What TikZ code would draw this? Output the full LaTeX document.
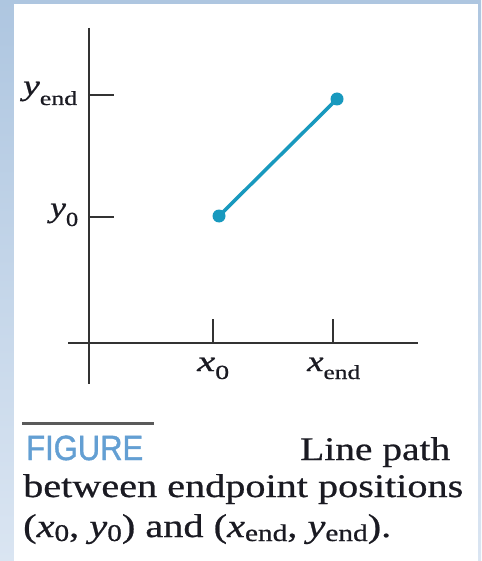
\documentclass[tikz,border=0pt]{standalone}
\usepackage{fontspec}
\usepackage{graphicx}
\setmainfont{Liberation Serif}[FakeBold=0.6]
\newfontfamily\figsans{Liberation Sans}[FakeBold=1.2]
\definecolor{bgtop}{HTML}{AEC6E0}
\definecolor{bgbot}{HTML}{DAE5F2}
\definecolor{linecol}{HTML}{1899BE}
\definecolor{axiscol}{HTML}{333333}
\definecolor{figblue}{HTML}{639FD3}
\definecolor{rulegray}{HTML}{5A5A5A}
\definecolor{txtcol}{HTML}{1A1A22}
\newcommand{\msub}[4]{{\itshape #1}\raisebox{-#3}{\fontsize{#4}{#4}\selectfont #2}}
\tikzset{
  axisline/.style={draw=axiscol, line width=2pt},
  tickline/.style={draw=axiscol, line width=1.8pt},
  segline/.style={draw=linecol, line width=3.5pt},
  dotnode/.style={circle, fill=linecol, inner sep=0pt, minimum size=13pt},
  labtext/.style={inner sep=0pt, text=txtcol, font=\fontsize{29pt}{29pt}\selectfont},
  captext/.style={inner sep=0pt, text=txtcol, font=\fontsize{33pt}{33pt}\selectfont},
}
\begin{document}
\begin{tikzpicture}[x=1pt, y=-1pt]
\useasboundingbox (0,0) rectangle (481,561);
% background
\shade[top color=bgtop, bottom color=bgbot] (0,0) rectangle (481,561);
\fill[white] (14,4) rectangle (478,561);
% axes
\coordinate (vtop) at (89,28);
\coordinate (vbot) at (89,384);
\coordinate (hleft) at (68,343);
\coordinate (hright) at (418,343);
\draw[axisline] (vtop) -- (vbot);
\draw[axisline] (hleft) -- (hright);
% ticks
\coordinate (ty1a) at (89,95);  \coordinate (ty1b) at (114,95);
\coordinate (ty0a) at (89,217); \coordinate (ty0b) at (114,217);
\coordinate (tx0a) at (213,319); \coordinate (tx0b) at (213,343);
\coordinate (tx1a) at (333,319); \coordinate (tx1b) at (333,343);
\draw[tickline] (ty1a) -- (ty1b);
\draw[tickline] (ty0a) -- (ty0b);
\draw[tickline] (tx0a) -- (tx0b);
\draw[tickline] (tx1a) -- (tx1b);
% axis labels
\node[labtext, anchor=base west] (lyend) at (23,95) {\resizebox{54pt}{\height}{\msub{y}{end}{10pt}{20pt}}};
\node[labtext, anchor=base west] (ly0) at (50,217) {\resizebox{28pt}{\height}{\msub{y}{0}{9pt}{20pt}}};
\node[labtext, anchor=base west] (lx0) at (197,371) {\resizebox{32pt}{\height}{\msub{x}{0}{8pt}{20pt}}};
\node[labtext, anchor=base west] (lxend) at (307,371) {\resizebox{53pt}{\height}{\msub{x}{end}{8pt}{20pt}}};
% line segment
\node[dotnode] (p0) at (219,216) {};
\node[dotnode] (p1) at (337,99) {};
\draw[segline] (p0.center) -- (p1.center);
% caption
\coordinate (ra) at (22,423);
\coordinate (rb) at (154,423);
\draw[draw=rulegray, line width=3pt] (ra) -- (rb);
\node[inner sep=0pt, anchor=base west, text=figblue, font=\figsans\fontsize{35pt}{35pt}\selectfont] (fig) at (26,460) {\resizebox{117pt}{\height}{FIGURE}};
\node[captext, anchor=base west] (c1) at (300,460) {\resizebox{150pt}{\height}{Line path}};
\node[captext, anchor=base west] (c2) at (23,497) {\resizebox{440pt}{\height}{between endpoint positions}};
\node[captext, anchor=base west] (c3) at (23,537) {\resizebox{368pt}{\height}{(\msub{x}{0}{4pt}{24pt}, \msub{y}{0}{4pt}{24pt}) and (\msub{x}{end}{4pt}{24pt}, \msub{y}{end}{4pt}{24pt}).}};
\end{tikzpicture}
\end{document}
